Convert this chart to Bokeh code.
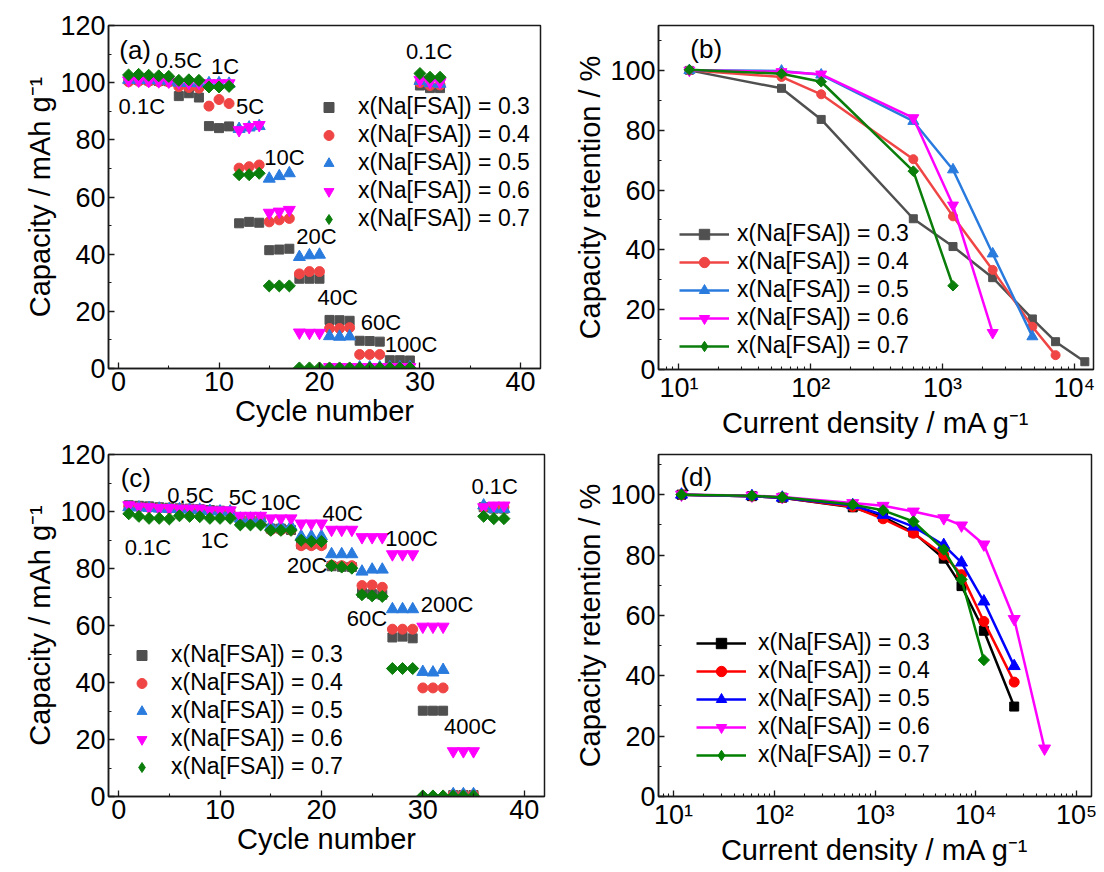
from bokeh.plotting import figure
from bokeh.models import Range1d, FixedTicker, Legend, LegendItem, Label, CustomJSTickFormatter
from bokeh.layouts import gridplot
from bokeh.embed import file_html
from bokeh.resources import INLINE

FONT = "Liberation Sans"

# ---------------- data ----------------
series_labels = ["x(Na[FSA]) = 0.3", "x(Na[FSA]) = 0.4", "x(Na[FSA]) = 0.5",
                 "x(Na[FSA]) = 0.6", "x(Na[FSA]) = 0.7"]

cycles_a = list(range(1, 33))
cap_a_03 = [101.0, 101.0, 100.8, 100.6, 100.5, 95.3, 96.3, 94.8, 84.8, 84.1, 84.7,
            50.8, 51.3, 51.0, 41.4, 41.6, 41.9, 31.4, 31.4, 31.4, 17.0, 16.9, 16.7,
            9.7, 9.6, 9.4, 2.9, 2.9, 2.8, 99.0, 98.1, 98.1]
cap_a_04 = [100.3, 100.5, 100.4, 100.3, 100.2, 98.6, 98.3, 98.1, 91.8, 94.1, 92.7,
            70.1, 70.6, 71.2, 51.3, 52.0, 52.5, 33.1, 33.9, 33.9, 14.0, 14.0, 14.3,
            4.9, 4.9, 4.9, 0.3, 0.3, 0.3, 100.0, 99.0, 99.2]
cap_a_05 = [101.0, 101.0, 100.9, 100.8, 100.7, 100.0, 99.9, 99.8, 99.8, 99.8, 99.6,
            83.8, 84.3, 84.8, 66.4, 67.3, 68.3, 39.0, 39.6, 39.8, 11.3, 11.1, 11.2,
            0.4, 0.4, 0.4, 0.4, 0.4, 0.4, 100.6, 99.8, 99.6]
cap_a_06 = [100.8, 100.7, 100.6, 100.5, 100.4, 100.0, 99.9, 99.9, 99.8, 99.8, 99.8,
            83.4, 84.5, 85.2, 54.5, 54.9, 55.5, 12.6, 12.5, 12.5, 0.5, 0.5, 0.5,
            0.5, 0.5, 0.5, 0.5, 0.5, 0.5, 101.0, 100.2, 100.2]
cap_a_07 = [102.7, 102.9, 102.6, 102.4, 102.2, 100.8, 101.0, 100.8, 98.5, 98.5, 98.7,
            67.8, 67.8, 68.3, 28.9, 28.9, 28.9, 0.2, 0.2, 0.2, 0.2, 0.2, 0.2,
            0.2, 0.2, 0.2, 0.2, 0.2, 0.2, 103.2, 101.9, 101.9]

cycles_c = list(range(1, 39))
cap_c_03 = [102.2, 102.0, 101.8, 101.5, 101.3, 101.1, 101.0, 100.8, 100.5, 100.3, 100.0,
            97.0, 97.0, 96.8, 94.0, 94.0, 93.5, 88.5, 88.5, 88.5, 80.8, 80.6, 80.5,
            71.5, 71.0, 70.8, 55.8, 56.1, 55.5, 30.1, 30.1, 30.1, 0.5, 0.5, 0.5,
            101.5, 101.0, 101.0]
cap_c_04 = [101.8, 101.6, 101.4, 101.2, 101.0, 100.9, 100.8, 100.6, 100.2, 100.0, 99.8,
            97.0, 97.0, 97.0, 93.5, 93.5, 93.5, 88.0, 88.0, 88.0, 81.2, 81.0, 81.0,
            74.0, 74.2, 73.4, 58.7, 58.7, 58.7, 38.1, 38.1, 38.1, 0.6, 0.6, 0.6,
            101.5, 101.5, 101.5]
cap_c_05 = [101.5, 101.4, 101.2, 101.0, 100.9, 100.8, 100.7, 100.6, 100.2, 100.0, 100.0,
            97.5, 97.5, 97.5, 94.8, 94.8, 94.8, 91.3, 91.3, 91.3, 85.0, 85.0, 85.0,
            78.9, 79.6, 79.6, 65.7, 65.7, 65.7, 43.7, 43.5, 44.4, 0.8, 0.8, 0.8,
            102.1, 100.9, 100.9]
cap_c_06 = [102.2, 101.7, 101.5, 101.2, 101.2, 101.0, 101.0, 101.0, 100.4, 100.4, 100.4,
            98.5, 98.5, 98.5, 97.6, 97.6, 97.6, 95.8, 95.8, 95.8, 93.6, 93.6, 93.6,
            91.0, 91.0, 91.0, 85.0, 85.0, 85.0, 59.6, 59.6, 59.6, 15.9, 15.9, 15.9,
            101.5, 102.1, 102.1]
cap_c_07 = [99.2, 98.3, 97.6, 97.6, 97.4, 98.5, 98.3, 98.2, 97.6, 97.6, 97.6,
            95.3, 95.3, 95.3, 93.4, 93.4, 93.4, 89.9, 89.5, 89.5, 81.0, 80.5, 80.1,
            70.8, 70.4, 70.2, 44.9, 44.9, 44.9, 0.2, 0.2, 0.2, 0.2, 0.2, 0.2,
            98.3, 97.5, 97.5]

current_b = [12, 60, 120, 600, 1200, 2400, 4800, 7200, 12000]
ret_b_03 = [100, 94.0, 83.6, 50.4, 41.1, 30.7, 16.9, 9.3, 2.6]
ret_b_04 = [100, 97.8, 92.0, 70.3, 51.2, 33.3, 14.3, 4.8]
ret_b_05 = [100, 99.8, 98.5, 83.0, 66.8, 38.7, 11.0]
ret_b_06 = [100, 99.5, 98.7, 84.1, 54.9, 12.3]
ret_b_07 = [100.2, 98.9, 96.2, 66.3, 28.0]

current_d = [12, 60, 120, 600, 1200, 2400, 4800, 7200, 12000, 24000, 48000]
ret_d_03 = [100, 99.5, 99.0, 95.8, 92.6, 87.5, 78.8, 69.7, 54.9, 29.8]
ret_d_04 = [100, 99.5, 99.0, 96.0, 92.0, 87.2, 80.0, 73.5, 58.0, 37.9]
ret_d_05 = [100, 99.5, 99.0, 96.5, 93.3, 89.4, 83.3, 77.5, 64.6, 43.2]
ret_d_06 = [100, 99.7, 99.2, 97.2, 96.3, 94.4, 92.2, 89.8, 83.5, 58.8, 15.9]
ret_d_07 = [100, 99.6, 99.1, 96.7, 94.8, 91.1, 81.8, 71.9, 45.2]

rate_text_a = ["0.1C", "0.5C", "1C", "5C", "10C", "20C", "40C", "60C", "100C", "0.1C"]
rate_x_a = [0.0, 3.7, 9.2, 11.7, 14.5, 17.7, 19.8, 24.1, 26.5, 28.6]
rate_y_a = [91.6, 107.7, 105.8, 91.6, 73.7, 46.1, 24.8, 16.1, 8.3, 111.0]

rate_text_c = ["0.1C", "0.5C", "1C", "5C", "10C", "20C", "40C", "60C", "100C",
               "200C", "400C", "0.1C"]
rate_x_c = [0.6, 4.8, 8.1, 10.85, 14.0, 16.6, 20.1, 22.5, 26.3, 29.8, 32.1, 34.8]
rate_y_c = [87.5, 105.6, 89.9, 105.0, 103.0, 81.0, 99.2, 62.6, 90.6, 67.3, 24.5, 108.6]

# ---------------- styles ----------------
col_light = ["#505050", "#F04545", "#2A7BDE", "#FF00FF", "#0B7D0B"]
col_dark = ["#000000", "#FF0000", "#0000FF", "#FF00FF", "#008000"]
markers = ["square", "circle", "triangle", "inverted_triangle", "square"]
angles = [0, 0, 0, 0, 0.785398]
legend_markers = ["square", "circle", "triangle", "inverted_triangle", "diamond"]
NAN = float("nan")


def style(p, xticks, xminor, yticks, yminor, xlabel, ylabel):
    p.xgrid.visible = False
    p.ygrid.visible = False
    p.outline_line_color = "#1a1a1a"
    p.outline_line_width = 1.5
    p.outline_line_alpha = 1.0
    p.xaxis.ticker = FixedTicker(ticks=xticks, minor_ticks=xminor)
    p.yaxis.ticker = FixedTicker(ticks=yticks, minor_ticks=yminor)
    p.xaxis.axis_label = xlabel
    p.yaxis.axis_label = ylabel
    for ax in (p.xaxis[0], p.yaxis[0]):
        ax.axis_line_color = "#1a1a1a"
        ax.axis_line_width = 1.5
        ax.major_tick_line_color = "#1a1a1a"
        ax.minor_tick_line_color = "#1a1a1a"
        ax.major_tick_line_width = 1.3
        ax.minor_tick_line_width = 1.1
        ax.major_tick_in = 6
        ax.major_tick_out = 0
        ax.minor_tick_in = 3
        ax.minor_tick_out = 0
        ax.major_label_text_font = FONT
        ax.major_label_text_font_size = "27px"
        ax.major_label_text_color = "#000000"
        ax.axis_label_text_font = FONT
        ax.axis_label_text_font_size = "29px"
        ax.axis_label_text_font_style = "normal"
        ax.axis_label_text_color = "#000000"
        ax.major_label_standoff = 3
        ax.axis_label_standoff = 1


def add_label(p, text, x, y, size="22px"):
    p.add_layout(Label(x=x, y=y, text=text, text_font=FONT, text_font_size=size,
                       text_baseline="middle", text_align="left", text_color="#000000"))


def make_legend(p, items, loc, gw, gh, standoff):
    leg = Legend(items=items, location=loc, border_line_alpha=0, background_fill_alpha=0,
                 padding=0, margin=0, spacing=1, glyph_width=gw, glyph_height=gh,
                 label_height=gh, label_standoff=standoff, label_text_font=FONT,
                 label_text_font_size="23px", label_text_color="#000000")
    p.add_layout(leg)


log_fmt = CustomJSTickFormatter(code="""
const sup = {1: '\u00b9', 2: '\u00b2', 3: '\u00b3', 4: '\u2074', 5: '\u2075'};
const e = Math.round(Math.log10(tick));
return '10' + sup[e];
""")

cap_label = "Capacity / mAh g\u207b\u00b9"
cur_label = "Current density / mA g\u207b\u00b9"
ret_label = "Capacity retention / %"
lin_minor_x = [5, 15, 25, 35]
y_minor = [10, 30, 50, 70, 90, 110]


def log_minor(lo, hi):
    out = []
    d = 1
    while d <= hi:
        for k in range(2, 10):
            v = k * d
            if lo <= v <= hi:
                out.append(v)
        d *= 10
    return out


def legend_marker(p, lm, s, c, r):
    # Bokeh legends do not rotate markers, so the diamond entry uses a diamond glyph
    if lm == "diamond":
        return p.scatter(x=[NAN], y=[NAN], marker="diamond", size=s, fill_color=c, line_color=c)
    return r


def scatter_panel(p, xs, series, sizes, colors, loc, standoff):
    items = []
    for ys, c, m, a, s, lm, lab in zip(series, colors, markers, angles, sizes,
                                       legend_markers, series_labels):
        r = p.scatter(xs, ys, marker=m, angle=a, size=s, fill_color=c, line_color=c)
        items.append(LegendItem(label=lab, renderers=[legend_marker(p, lm, s, c, r)]))
    make_legend(p, items, loc, 25, 26, standoff)


def line_panel(p, xs_all, series, sizes, colors, loc, standoff):
    items = []
    for ys, c, m, a, s, lm, lab in zip(series, colors, markers, angles, sizes,
                                       legend_markers, series_labels):
        xs = xs_all[:len(ys)]
        rl = p.line(xs, ys, line_color=c, line_width=2.5)
        rs = p.scatter(xs, ys, marker=m, angle=a, size=s, fill_color=c, line_color=c)
        items.append(LegendItem(label=lab, renderers=[rl, legend_marker(p, lm, s, c, rs)]))
    make_legend(p, items, loc, 50, 26, standoff)


# ---------------- panel (a) ----------------
pa = figure(title=None, frame_width=432, frame_height=343, x_range=Range1d(-1, 42),
            y_range=Range1d(0, 120), output_backend="svg", toolbar_location=None,
            min_border_left=104, min_border_right=15, min_border_top=25, min_border_bottom=72)
style(pa, [0, 10, 20, 30, 40], lin_minor_x, [0, 20, 40, 60, 80, 100, 120], y_minor,
      "Cycle number", cap_label)
scatter_panel(pa, cycles_a, [cap_a_03, cap_a_04, cap_a_05, cap_a_06, cap_a_07],
              [9, 10, 12, 12, 8.5], col_light, (208, 136), 17)
for t, x, y in zip(rate_text_a, rate_x_a, rate_y_a):
    add_label(pa, t, x, y)
add_label(pa, "(a)", 0.07, 111.6, "26px")

# ---------------- panel (b) ----------------
pb = figure(title=None, frame_width=435, frame_height=344, x_axis_type="log",
            x_range=Range1d(10 ** 0.845, 10 ** 4.145), y_range=Range1d(0, 115),
            output_backend="svg", toolbar_location=None,
            min_border_left=105, min_border_right=7, min_border_top=24, min_border_bottom=72)
style(pb, [10, 100, 1000, 10000], log_minor(7, 14000), [0, 20, 40, 60, 80, 100],
      y_minor, cur_label, ret_label)
pb.xaxis[0].formatter = log_fmt
line_panel(pb, current_b, [ret_b_03, ret_b_04, ret_b_05, ret_b_06, ret_b_07],
           [8, 9, 11, 11, 7.5], col_light, (21, 10), 8)
add_label(pb, "(b)", 12.2, 107, "26px")

# ---------------- panel (c) ----------------
pc = figure(title=None, frame_width=436, frame_height=342, x_range=Range1d(-1, 42),
            y_range=Range1d(0, 120), output_backend="svg", toolbar_location=None,
            min_border_left=108, min_border_right=7, min_border_top=14, min_border_bottom=72)
style(pc, [0, 10, 20, 30, 40], lin_minor_x, [0, 20, 40, 60, 80, 100, 120], y_minor,
      "Cycle number", cap_label)
scatter_panel(pc, cycles_c, [cap_c_03, cap_c_04, cap_c_05, cap_c_06, cap_c_07],
              [9, 10, 12, 12, 8.5], col_light, (21, 16), 17)
for t, x, y in zip(rate_text_c, rate_x_c, rate_y_c):
    add_label(pc, t, x, y)
add_label(pc, "(c)", 0.2, 111.8, "26px")

# ---------------- panel (d) ----------------
pd = figure(title=None, frame_width=433, frame_height=342, x_axis_type="log",
            x_range=Range1d(10 ** 0.851, 10 ** 5.147), y_range=Range1d(0, 113.3),
            output_backend="svg", toolbar_location=None,
            min_border_left=107, min_border_right=7, min_border_top=14, min_border_bottom=72)
style(pd, [10, 100, 1000, 10000, 100000], log_minor(7, 140000), [0, 20, 40, 60, 80, 100],
      y_minor, cur_label, ret_label)
pd.xaxis[0].formatter = log_fmt
line_panel(pd, current_d, [ret_d_03, ret_d_04, ret_d_05, ret_d_06, ret_d_07],
           [9, 10, 12, 12, 8], col_dark, (38, 28), 12)
add_label(pd, "(d)", 11.7, 105.8, "26px")

grid = gridplot([[pa, pb], [pc, pd]], toolbar_location=None)
open("out.html", "w").write(file_html(grid, INLINE))
